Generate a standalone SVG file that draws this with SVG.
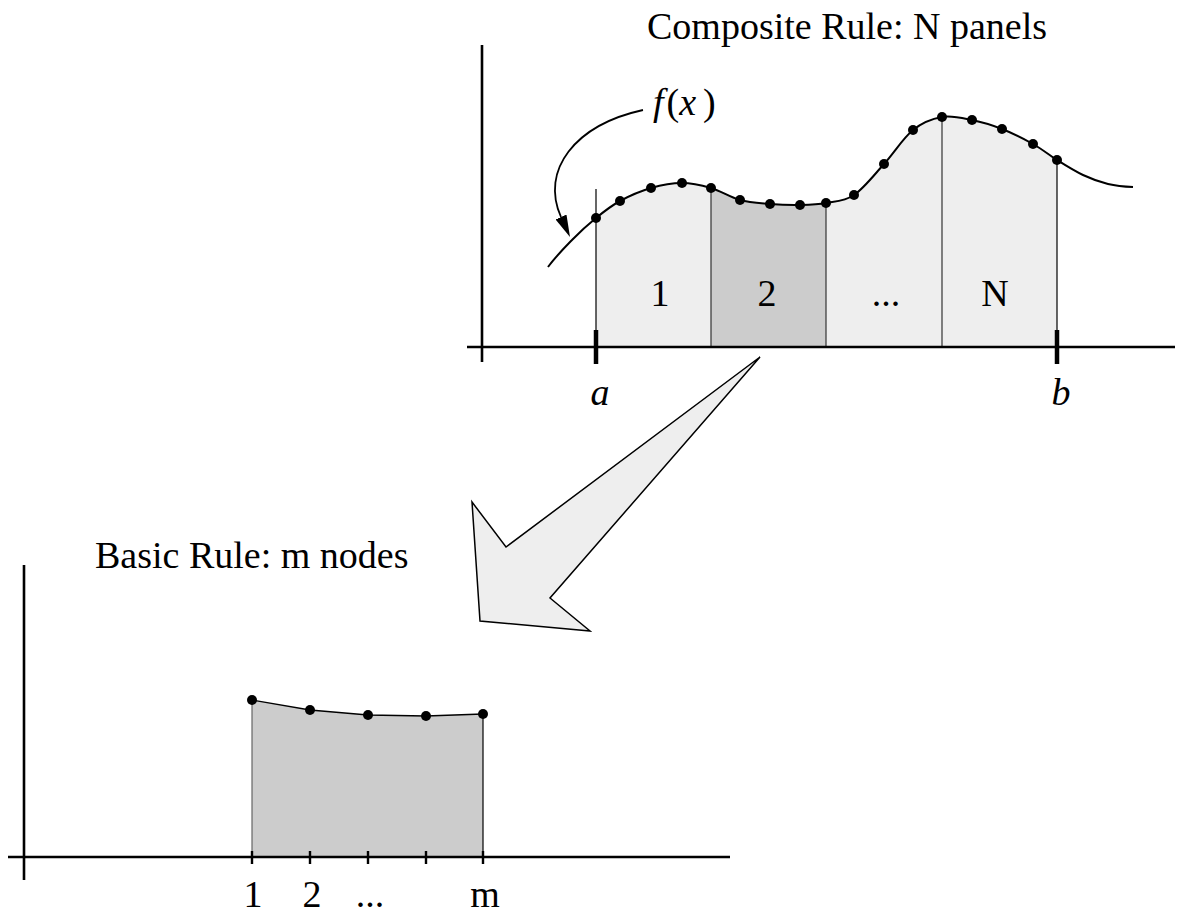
<svg xmlns="http://www.w3.org/2000/svg" width="1183" height="913" viewBox="0 0 1183 913">
<style>
text{font-family:"Liberation Serif","Times New Roman",serif;font-size:38px;fill:#000}
.it{font-style:italic}
.axis{stroke:#000;stroke-width:2.6;fill:none}
.tick{stroke:#000;stroke-width:4.5}
.stick{stroke:#000;stroke-width:2.4}
.div{stroke:#333;stroke-width:1.2}
.dot{fill:#000}
.curve{fill:none;stroke:#000;stroke-width:2}
</style>
<defs>
<marker id="ah" markerUnits="userSpaceOnUse" markerWidth="22" markerHeight="12" refX="0" refY="6" orient="auto" viewBox="0 0 22 12">
<path d="M0,0 L22,6 L0,12 Z" fill="#000"/>
</marker>
</defs>
<rect width="1183" height="913" fill="#fff"/>

<g id="composite-plot">
<path d="M596,347 L596,218 C604,211.5 610.8,206 620,201 C629.2,196 640.7,191 651,188 C661.3,185 672,183 682,183 C692,183 701.3,185.2 711,188 C720.7,190.8 730.2,197.3 740,200 C749.8,202.7 760,203.2 770,204 C780,204.8 790.7,205.2 800,205 C809.3,204.8 817,204.7 826,203 C835,201.3 844.3,201.5 854,195 C863.7,188.5 874.2,174.8 884,164 C893.8,153.2 903.3,137.8 913,130 C922.7,122.2 932.2,118.7 942,117 C951.8,115.3 962,118 972,120 C982,122 991.8,125 1002,129 C1012.2,133 1023.8,138.8 1033,144 C1042.2,149.2 1048.7,154.8 1057,160 L1057,347 Z" fill="#eeeeee"/>
<path d="M711,347 L711,188 C720.7,190.8 730.2,197.3 740,200 C749.8,202.7 760,203.2 770,204 C780,204.8 790.7,205.2 800,205 C809.3,204.8 817,204.7 826,203 L826,347 Z" fill="#cccccc"/>
<line class="div" x1="711" y1="188" x2="711" y2="347"/>
<line class="div" x1="826" y1="203" x2="826" y2="347"/>
<line class="div" x1="942" y1="117" x2="942" y2="347"/>
<line x1="596" y1="189" x2="596" y2="347" stroke="#000" stroke-width="1.2"/>
<line x1="1057" y1="160" x2="1057" y2="347" stroke="#000" stroke-width="1.2"/>
<path class="axis" d="M482,45 L482,362 M467,347 L1175,347"/>
<line class="tick" x1="596" y1="330" x2="596" y2="364"/>
<line class="tick" x1="1057" y1="330" x2="1057" y2="364"/>
<path class="curve" d="M548,267 C555.3,257 564,248.2 572,240 C580,231.8 588,224.5 596,218 C604,211.5 610.8,206 620,201 C629.2,196 640.7,191 651,188 C661.3,185 672,183 682,183 C692,183 701.3,185.2 711,188 C720.7,190.8 730.2,197.3 740,200 C749.8,202.7 760,203.2 770,204 C780,204.8 790.7,205.2 800,205 C809.3,204.8 817,204.7 826,203 C835,201.3 844.3,201.5 854,195 C863.7,188.5 874.2,174.8 884,164 C893.8,153.2 903.3,137.8 913,130 C922.7,122.2 932.2,118.7 942,117 C951.8,115.3 962,118 972,120 C982,122 991.8,125 1002,129 C1012.2,133 1023.8,138.8 1033,144 C1042.2,149.2 1048.7,154.8 1057,160 C1065.3,165.2 1074.5,171 1083,175 C1091.5,179 1099.7,182 1108,184 C1116.3,186 1124.7,186.7 1133,187"/>
<g class="dot">
<circle cx="596" cy="218" r="5"/><circle cx="620" cy="201" r="5"/><circle cx="651" cy="188" r="5"/><circle cx="682" cy="183" r="5"/><circle cx="711" cy="188" r="5"/>
<circle cx="740" cy="200" r="5"/><circle cx="770" cy="204" r="5"/><circle cx="800" cy="205" r="5"/><circle cx="826" cy="203" r="5"/>
<circle cx="854" cy="195" r="5"/><circle cx="884" cy="164" r="5"/><circle cx="913" cy="130" r="5"/><circle cx="942" cy="117" r="5"/>
<circle cx="972" cy="120" r="5"/><circle cx="1002" cy="129" r="5"/><circle cx="1033" cy="144" r="5"/><circle cx="1057" cy="160" r="5"/>
</g>
<text x="647" y="39">Composite Rule: N panels</text>
<text x="660" y="306" text-anchor="middle">1</text>
<text x="767" y="306" text-anchor="middle">2</text>
<text x="886" y="306" text-anchor="middle">...</text>
<text x="995" y="306" text-anchor="middle">N</text>
<text class="it" x="600" y="405" text-anchor="middle">a</text>
<text class="it" x="1061" y="405" text-anchor="middle">b</text>
<text x="653" y="115"><tspan class="it">f</tspan><tspan dx="3">(</tspan><tspan class="it">x</tspan><tspan dx="7">)</tspan></text>
</g>

<g id="basic-plot">
<polygon points="252,857 252,700 310,710 368,715 426,716 483,714 483,857" fill="#cccccc"/>
<line x1="252" y1="700" x2="252" y2="857" stroke="#666" stroke-width="1.2"/>
<line x1="483" y1="714" x2="483" y2="857" stroke="#000" stroke-width="1.2"/>
<polyline points="252,700 310,710 368,715 426,716 483,714" fill="none" stroke="#000" stroke-width="1.3"/>
<path class="axis" d="M24,565 L24,880 M8,857 L730,857"/>
<path class="stick" d="M252,851 V864 M310,851 V864 M368,851 V864 M426,851 V864 M483,851 V864"/>
<g class="dot">
<circle cx="252" cy="700" r="5"/><circle cx="310" cy="710" r="5"/><circle cx="368" cy="715" r="5"/><circle cx="426" cy="716" r="5"/><circle cx="483" cy="714" r="5"/>
</g>
<text x="95" y="568">Basic Rule: m nodes</text>
<text x="253" y="907" text-anchor="middle">1</text>
<text x="312" y="907" text-anchor="middle">2</text>
<text x="370" y="907" text-anchor="middle">...</text>
<text x="485" y="907" text-anchor="middle">m</text>
</g>

<g id="connectors">
<path d="M643,110 C575,125 540,170 561,217" fill="none" stroke="#000" stroke-width="1.8" marker-end="url(#ah)"/>
<polygon points="760,357 506,547 472,502 480,621 590,631 550,598" fill="#eeeeee" stroke="#000" stroke-width="1.5" stroke-linejoin="miter"/>
</g>
</svg>
